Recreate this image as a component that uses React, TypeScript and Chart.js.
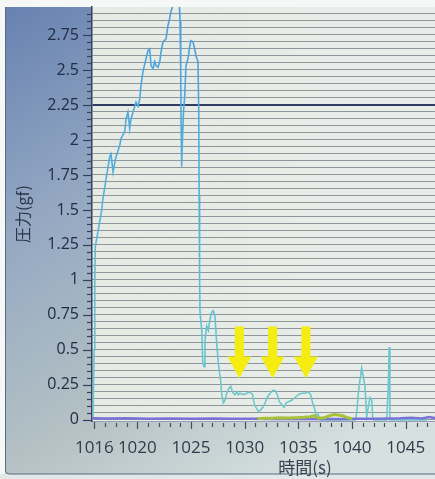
import React, { useEffect, useRef } from 'react';
import { Chart, registerables } from 'chart.js';
Chart.register(...registerables);

// ---- data (time in s, pressure in gf) ----
const cyanTimes = [
  1015.88, 1015.98, 1016.04, 1016.09, 1016.3, 1016.65, 1016.8, 1017.09, 1017.43, 1017.55,
  1017.74, 1017.9, 1018.02, 1018.36, 1018.48, 1018.83, 1018.95, 1019.13, 1019.29, 1019.41,
  1019.76, 1019.88, 1020.07, 1020.22, 1020.34, 1020.53, 1020.81, 1021.0, 1021.15, 1021.28,
  1021.46, 1021.62, 1021.74, 1021.93, 1022.09, 1022.21, 1022.39, 1022.67, 1022.86, 1023.02,
  1023.14, 1023.32, 1023.6, 1023.9, 1023.98, 1024.04, 1024.08, 1024.13, 1024.2, 1024.3,
  1024.41, 1024.53, 1024.72, 1024.88, 1025.0, 1025.19, 1025.34, 1025.47, 1025.65, 1025.72,
  1025.76, 1025.8, 1025.84, 1026.0, 1026.09, 1026.21, 1026.3, 1026.46, 1026.61, 1026.77,
  1026.93, 1027.08, 1027.23, 1027.39, 1027.54, 1027.77, 1027.86, 1028.01, 1028.17, 1028.32,
  1028.57, 1028.7, 1028.82, 1028.94, 1029.1, 1029.26, 1029.4, 1029.56, 1029.87, 1030.19,
  1030.49, 1030.74, 1030.87, 1031.05, 1031.27, 1031.49, 1031.68, 1031.89, 1032.1, 1032.36,
  1032.61, 1032.82, 1033.04, 1033.22, 1033.45, 1033.66, 1033.85, 1034.06, 1034.38, 1034.68,
  1034.99, 1035.31, 1035.61, 1035.92, 1036.15, 1036.33, 1036.55, 1036.7, 1036.85, 1037.01,
  1040.3, 1040.43, 1040.58, 1040.74, 1040.89, 1041.04, 1041.2, 1041.36, 1041.51, 1041.67,
  1041.83, 1041.92, 1042.04, 1043.22, 1043.37, 1043.46, 1043.52, 1047.0,
];
const cyanValues = [
  0, 0.5, 1.0, 1.24, 1.33, 1.48, 1.58, 1.72, 1.88, 1.9,
  1.77, 1.84, 1.88, 1.96, 2.01, 2.06, 2.15, 2.2, 2.08, 2.15,
  2.24, 2.27, 2.24, 2.29, 2.39, 2.49, 2.58, 2.64, 2.65, 2.53,
  2.51, 2.56, 2.53, 2.52, 2.56, 2.63, 2.7, 2.72, 2.82, 2.87,
  2.92, 2.96, 3.08, 3.0, 2.85, 2.5, 2.1, 1.81, 2.0, 2.2,
  2.31, 2.53, 2.58, 2.67, 2.71, 2.7, 2.65, 2.6, 2.56, 2.2,
  1.6, 1.0, 0.77, 0.64, 0.41, 0.38, 0.57, 0.67, 0.64, 0.72,
  0.77, 0.78, 0.74, 0.55, 0.41, 0.27, 0.18, 0.12, 0.14, 0.19,
  0.23, 0.24, 0.21, 0.19, 0.18, 0.2, 0.18, 0.19, 0.18, 0.19,
  0.2, 0.18, 0.12, 0.09, 0.06, 0.07, 0.09, 0.12, 0.16, 0.19,
  0.21, 0.21, 0.18, 0.13, 0.11, 0.09, 0.12, 0.13, 0.14, 0.16,
  0.18, 0.19, 0.19, 0.2, 0.18, 0.12, 0.07, 0.02, 0.04, 0,
  0, 0.05, 0.19, 0.29, 0.37, 0.31, 0.24, 0.02, 0.09, 0.16,
  0.14, 0.02, 0, 0, 0.24, 0.52, 0, 0,
];

const purpleTimes = [
  1015.8, 1017, 1019, 1021, 1023, 1025, 1027, 1029, 1031, 1033, 1035, 1037, 1039,
  1040.5, 1042, 1043.5, 1044.5, 1045.5, 1046.5, 1047.2, 1048, 1050, 1055.5,
];
const purpleValues = [
  0.012, 0.01, 0.012, 0.008, 0.01, 0.008, 0.01, 0.008, 0.008, 0.006, 0.006, 0.006, 0.006,
  0.008, 0.008, 0.01, 0.012, 0.016, 0.01, 0.02, 0.008, 0.01, 0.01,
];

const greenTimes = [
  1031.2, 1031.8, 1032.5, 1033.2, 1034, 1034.8, 1035.5, 1036.1, 1036.5, 1036.9,
  1037.4, 1037.9, 1038.3, 1038.7, 1039.1, 1039.5, 1040.0,
];
const greenValues = [
  0.008, 0.012, 0.012, 0.015, 0.014, 0.016, 0.018, 0.022, 0.03, 0.012,
  0.015, 0.03, 0.038, 0.035, 0.03, 0.018, 0.008,
];

// yellow marker arrows
const arrowTimes = [1029.5, 1032.6, 1035.7];
const arrowTopValue = 0.667;
const arrowHeadValue = 0.452;
const arrowTipValue = 0.297;

// axes
const xTickLabels = [1016, 1020, 1025, 1030, 1035, 1040, 1045];
const yTickLabels = ['0', '0.25', '0.5', '0.75', '1', '1.25', '1.5', '1.75', '2', '2.25', '2.5', '2.75'];
const yHighlightValue = 2.25;
const xMin = 1015.78;
const xMax = 1055.45;
const yMin = -0.008;
const yMax = 2.95;

const yGridValues: number[] = [];
for (let k = 0; k <= 58; k++) yGridValues.push(Math.round(k * 5) / 100);
const xMinorTicks: number[] = [];
for (let t = 1016; t <= 1055; t++) xMinorTicks.push(t);

const CANVAS_W = 518;
const CANVAS_H = 479;

const isMajorY = (v: number) => Math.abs(v * 4 - Math.round(v * 4)) < 1e-6;

const backgroundPlugin = {
  id: 'bgPanel',
  beforeDraw(chart: any) {
    const { ctx, chartArea, width, height } = chart;
    ctx.save();
    const g = ctx.createLinearGradient(0, 0, 300, height);
    g.addColorStop(0, '#6580b0');
    g.addColorStop(0.35, '#93a7c2');
    g.addColorStop(0.7, '#b3c1c4');
    g.addColorStop(1, '#d6e0df');
    ctx.fillStyle = g;
    ctx.fillRect(0, 0, width, height);
    // white photo border
    ctx.fillStyle = '#f6f8f8';
    ctx.fillRect(0, 0, width, chartArea.top);
    ctx.fillRect(0, 0, 5, height);
    ctx.fillStyle = '#e2e7e7';
    ctx.fillRect(0, 474, width, height - 474);
    ctx.strokeStyle = '#5a6a80';
    ctx.lineWidth = 1;
    ctx.beginPath();
    ctx.moveTo(5.5, chartArea.top);
    ctx.lineTo(5.5, 470);
    ctx.quadraticCurveTo(5.5, 474, 10, 474);
    ctx.lineTo(width, 474);
    ctx.stroke();
    // plot area
    const pg = ctx.createLinearGradient(chartArea.left, 0, chartArea.right, 0);
    pg.addColorStop(0, '#e6ebe4');
    pg.addColorStop(1, '#e9eeec');
    ctx.fillStyle = pg;
    ctx.fillRect(chartArea.left, chartArea.top, chartArea.right - chartArea.left, chartArea.bottom - chartArea.top);
    ctx.restore();
  },
};

const tickMarksPlugin = {
  id: 'tickMarks',
  afterDraw(chart: any) {
    const { ctx, chartArea } = chart;
    const xs = chart.scales.x;
    const ys = chart.scales.y;
    ctx.save();
    ctx.strokeStyle = '#36405a';
    ctx.lineWidth = 1.2;
    yGridValues.forEach((v) => {
      const py = Math.round(ys.getPixelForValue(v)) + 0.5;
      const len = isMajorY(v) ? 8 : 4;
      ctx.beginPath();
      ctx.moveTo(chartArea.left - len - 1, py);
      ctx.lineTo(chartArea.left, py);
      ctx.stroke();
    });
    ctx.strokeStyle = '#444c60';
    xMinorTicks.forEach((t) => {
      const px = Math.round(xs.getPixelForValue(t)) + 0.5;
      const major = xTickLabels.includes(t);
      ctx.beginPath();
      ctx.moveTo(px, chartArea.bottom + (major ? 1 : 2));
      ctx.lineTo(px, chartArea.bottom + (major ? 8 : 6));
      ctx.stroke();
    });
    ctx.restore();
  },
};

const arrowPlugin = {
  id: 'arrows',
  afterDatasetsDraw(chart: any) {
    const { ctx } = chart;
    const xs = chart.scales.x;
    const ys = chart.scales.y;
    const yTop = ys.getPixelForValue(arrowTopValue);
    const yHead = ys.getPixelForValue(arrowHeadValue);
    const yTip = ys.getPixelForValue(arrowTipValue);
    ctx.save();
    ctx.fillStyle = '#f5ec12';
    arrowTimes.forEach((t) => {
      const cx = xs.getPixelForValue(t);
      ctx.beginPath();
      ctx.moveTo(cx - 4.5, yTop);
      ctx.lineTo(cx + 4.5, yTop);
      ctx.lineTo(cx + 4.5, yHead);
      ctx.lineTo(cx + 12, yHead);
      ctx.lineTo(cx, yTip);
      ctx.lineTo(cx - 12, yHead);
      ctx.lineTo(cx - 4.5, yHead);
      ctx.closePath();
      ctx.fill();
    });
    ctx.restore();
  },
};

export default function App() {
  const canvasRef = useRef<HTMLCanvasElement | null>(null);

  useEffect(() => {
    document.body.style.margin = '0';
    document.body.style.overflow = 'hidden';
    const canvas = canvasRef.current;
    if (!canvas) return;

    const cyanGradient = (c: any) => {
      const { chart } = c;
      const area = chart.chartArea;
      if (!area) return '#58b6d8';
      const g = chart.ctx.createLinearGradient(0, area.top, 0, area.bottom);
      g.addColorStop(0, '#4a9ee0');
      g.addColorStop(0.45, '#55b2dc');
      g.addColorStop(0.75, '#64c2d4');
      g.addColorStop(1, '#70cacb');
      return g;
    };

    const chart = new Chart(canvas, {
      type: 'line',
      data: {
        datasets: [
          {
            label: 'green',
            data: greenTimes.map((t, i) => ({ x: t, y: greenValues[i] })),
            borderColor: '#a8c23a',
            borderWidth: 3,
            pointRadius: 0,
            tension: 0,
          },
          {
            label: 'purple',
            data: purpleTimes.map((t, i) => ({ x: t, y: purpleValues[i] })),
            borderColor: '#7a72d6',
            borderWidth: 2.5,
            pointRadius: 0,
            tension: 0,
          },
          {
            label: 'cyan',
            data: cyanTimes.map((t, i) => ({ x: t, y: cyanValues[i] })),
            borderColor: cyanGradient as any,
            borderWidth: 1.6,
            pointRadius: 0,
            tension: 0,
          },
        ],
      },
      options: {
        animation: false,
        responsive: false,
        devicePixelRatio: 1,
        layout: { padding: { left: 0, top: 7, right: 0, bottom: 0 } },
        plugins: { legend: { display: false }, tooltip: { enabled: false } },
        scales: {
          x: {
            type: 'linear',
            min: xMin,
            max: xMax,
            afterFit: (s: any) => {
              s.height = 58;
              s.paddingLeft = 0;
              s.paddingRight = 0;
            },
            afterBuildTicks: (s: any) => {
              s.ticks = xTickLabels.map((v) => ({ value: v }));
            },
            grid: { display: false, drawTicks: false },
            border: { display: true, color: '#9a9cb6', width: 1 },
            ticks: {
              autoSkip: false,
              maxRotation: 0,
              padding: 17,
              color: '#323a4c',
              font: { family: '"Open Sans", "Noto Sans", sans-serif', size: 17 },
              callback: (v: any) => String(v),
            },
            title: {
              display: true,
              text: '時間(s)',
              color: '#3a4254',
              font: { family: '"Noto Sans CJK JP", "Noto Sans", sans-serif', size: 17 },
              padding: { top: 0, bottom: 1 },
            },
          },
          y: {
            type: 'linear',
            min: yMin,
            max: yMax,
            afterFit: (s: any) => {
              s.width = 92;
              s.paddingTop = 0;
              s.paddingBottom = 0;
            },
            afterBuildTicks: (s: any) => {
              s.ticks = yGridValues.map((v) => ({ value: v }));
            },
            grid: {
              drawTicks: false,
              color: (c: any) =>
                c.tick && Math.abs(c.tick.value - yHighlightValue) < 1e-6 ? '#2f3d62' : 'rgba(112,120,130,0.75)',
              lineWidth: (c: any) =>
                c.tick && Math.abs(c.tick.value - yHighlightValue) < 1e-6 ? 2 : 1,
            },
            border: { display: true, color: '#34405e', width: 1.5 },
            ticks: {
              autoSkip: false,
              padding: 13,
              color: '#222c44',
              font: { family: '"Open Sans", "Noto Sans", sans-serif', size: 16 },
              callback: (v: any) => {
                if (!isMajorY(v)) return '';
                const idx = Math.round(v * 4);
                return yTickLabels[idx] ?? '';
              },
            },
            title: {
              display: true,
              text: '圧力(gf)',
              color: '#2d3548',
              font: { family: '"Noto Sans CJK JP", "Noto Sans", sans-serif', size: 16 },
              padding: { top: 13, bottom: 0 },
            },
          },
        },
      },
      plugins: [backgroundPlugin, tickMarksPlugin, arrowPlugin],
    });

    return () => chart.destroy();
  }, []);

  return (
    <div style={{ width: 435, height: 479, overflow: 'hidden', position: 'relative' }}>
      <canvas ref={canvasRef} width={CANVAS_W} height={CANVAS_H} style={{ display: 'block', width: CANVAS_W, height: CANVAS_H }} />
    </div>
  );
}
